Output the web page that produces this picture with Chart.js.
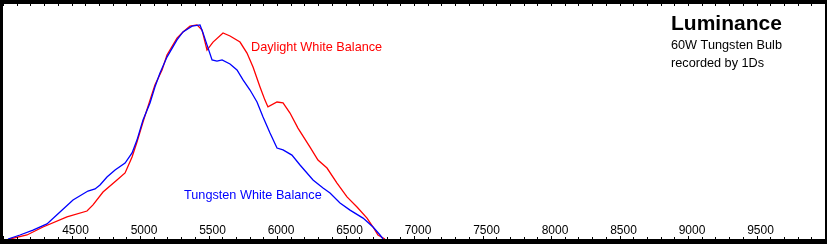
<!DOCTYPE html>
<html>
<head>
<meta charset="utf-8">
<script src="https://cdn.jsdelivr.net/npm/chart.js@4/dist/chart.umd.min.js"></script>
<style>
html,body{margin:0;padding:0;background:#000;}
canvas{display:block;background:#000;}
</style>
</head>
<body>
<canvas id="c" width="827" height="244"></canvas>
<script>
// Colour temperature (K) on x, relative luminance on y
const tungstenX = [4036,4124,4219,4321,4416,4511,4620,4672,4708,4759,4818,4891,4942,4978,5022,5073,5109,5146,5197,5270,5314,5380,5438,5460,5489,5526,5562,5599,5657,5708,5752,5803,5854,5898,5949,6000,6044,6109,6168,6263,6336,6387,6460,6533,6628,6701,6752,6774];
const tungstenY = [0,1.7,3.8,6.4,11.5,16.6,20.4,21.3,23.0,26.4,29.4,32.3,36.6,42.1,50.6,57.9,64.7,70.6,77.4,84.7,88.1,90.6,91.1,87.7,82.6,76.2,75.7,76.2,74.5,71.9,67.7,63.4,58.3,51.9,45.1,38.7,37.9,35.7,31.5,25.1,21.7,19.6,15.3,12.3,8.9,5.1,1.7,0];
const daylightX = [4051,4175,4292,4467,4613,4657,4730,4832,4891,4942,4978,5022,5073,5109,5161,5197,5270,5314,5365,5416,5453,5489,5533,5606,5657,5730,5781,5825,5876,5912,5934,6000,6044,6095,6153,6241,6299,6365,6438,6511,6584,6657,6701,6737,6788];
const daylightY = [0,1.7,5.1,9.4,11.9,14.5,20.0,25.1,28.1,34.9,41.3,49.8,59.1,65.5,71.9,78.3,85.5,88.1,90.6,91.1,88.9,80.4,83.8,87.7,86.4,83.8,79.1,73.2,64.7,59.1,56.2,58.3,57.9,53.6,47.2,39.1,33.6,30.2,23.8,17.9,13.6,8.9,5.1,1.7,0];
const xMin = 4000, xMax = 10000, minorStep = 100, majorStep = 500;
const seriesNames = ['Daylight White Balance', 'Tungsten White Balance'];
const titleText = 'Luminance';
const subtitleLines = ['60W Tungsten Bulb', 'recorded by 1Ds'];

const toPts = (xs, ys) => xs.map((x, i) => ({x: x, y: ys[i]}));
const FONT = '"Liberation Sans", Arial, sans-serif';

const framePlugin = {
  id: 'frame',
  beforeDraw(chart) {
    const {ctx, chartArea: a} = chart;
    ctx.save();
    ctx.fillStyle = '#000';
    ctx.fillRect(0, 0, chart.width, chart.height);
    ctx.fillStyle = '#fff';
    ctx.fillRect(a.left, a.top, a.right - a.left, a.bottom - a.top);
    ctx.restore();
  },
  afterDraw(chart) {
    const {ctx, chartArea: a} = chart;
    const xs = chart.scales.x;
    ctx.save();
    ctx.fillStyle = '#000';
    xs.ticks.forEach(t => {
      const px = Math.round(xs.getPixelForValue(t.value));
      const major = Math.round(t.value) % majorStep === 0;
      const len = major ? 3 : 2;
      ctx.fillRect(px, a.bottom - len, 1, len);
      ctx.fillRect(px, a.top, 1, 2);
    });
    // annotations
    ctx.textAlign = 'left';
    ctx.textBaseline = 'alphabetic';
    ctx.fillStyle = '#000';
    ctx.font = 'bold 21px ' + FONT;
    ctx.fillText(titleText, 671, 30);
    ctx.font = '12.7px ' + FONT;
    ctx.fillText(subtitleLines[0], 671, 49);
    ctx.fillText(subtitleLines[1], 671, 67);
    ctx.fillStyle = '#ff0000';
    ctx.fillText(seriesNames[0], 251, 51);
    ctx.fillStyle = '#0000ff';
    ctx.fillText(seriesNames[1], 184, 199);
    ctx.restore();
  }
};

new Chart(document.getElementById('c'), {
  type: 'line',
  data: {
    datasets: [
      {label: seriesNames[1], data: toPts(tungstenX, tungstenY), borderColor: '#0000ff', borderWidth: 1.3, pointRadius: 0, tension: 0, fill: false},
      {label: seriesNames[0], data: toPts(daylightX, daylightY), borderColor: '#ff0000', borderWidth: 1.3, pointRadius: 0, tension: 0, fill: false}
    ]
  },
  options: {
    responsive: false,
    devicePixelRatio: 1,
    animation: false,
    layout: {padding: {left: 3, right: 2, top: 4, bottom: 5}},
    plugins: {legend: {display: false}, tooltip: {enabled: false}, title: {display: false}},
    scales: {
      x: {
        type: 'linear', position: 'bottom', min: xMin, max: xMax,
        grid: {display: false, drawTicks: false},
        border: {display: false},
        afterFit(scale) { scale.height = 0; },
        ticks: {
          stepSize: minorStep, autoSkip: false, maxRotation: 0, minRotation: 0,
          mirror: true, padding: 1, labelOffset: 4, color: '#000',
          font: {family: FONT, size: 12},
          callback(v) {
            const r = Math.round(v);
            return (r % majorStep === 0 && r !== xMin && r !== xMax) ? String(r) : '';
          }
        }
      },
      y: {display: false, min: 0, max: 100}
    }
  },
  plugins: [framePlugin]
});
</script>
</body>
</html>
